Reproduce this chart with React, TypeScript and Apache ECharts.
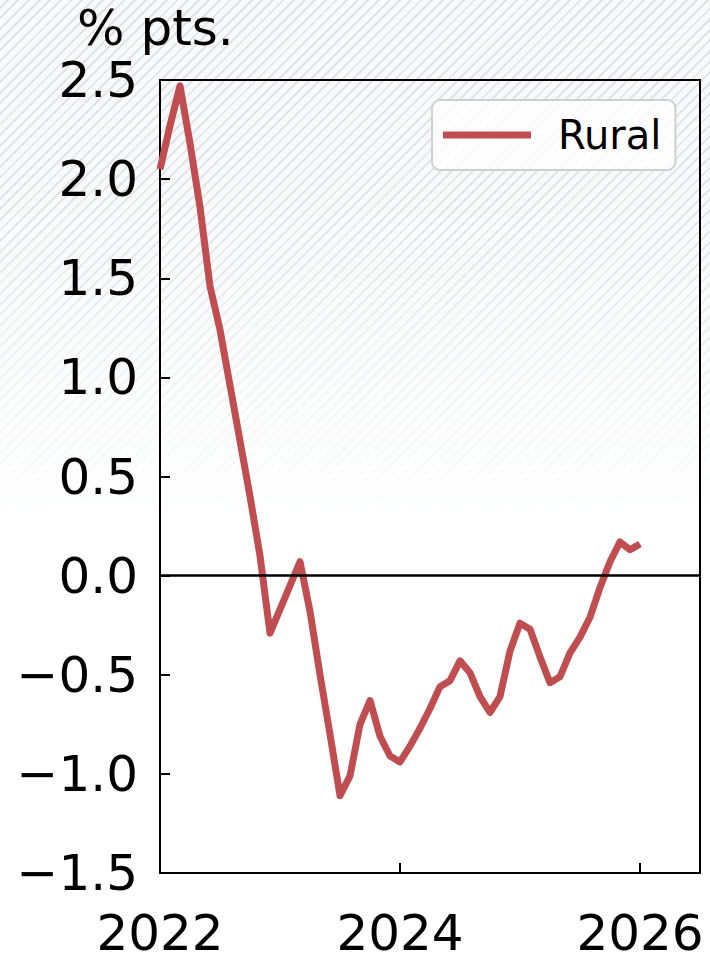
import React, { useEffect, useRef } from "react";
import * as echarts from "echarts";

const months = [
  "2022-01", "2022-02", "2022-03", "2022-04", "2022-05", "2022-06",
  "2022-07", "2022-08", "2022-09", "2022-10", "2022-11", "2022-12",
  "2023-01", "2023-02", "2023-03", "2023-04", "2023-05", "2023-06",
  "2023-07", "2023-08", "2023-09", "2023-10", "2023-11", "2023-12",
  "2024-01", "2024-02", "2024-03", "2024-04", "2024-05", "2024-06",
  "2024-07", "2024-08", "2024-09", "2024-10", "2024-11", "2024-12",
  "2025-01", "2025-02", "2025-03", "2025-04", "2025-05", "2025-06",
  "2025-07", "2025-08", "2025-09", "2025-10", "2025-11", "2025-12",
  "2026-01",
];

const rural = [
  2.05, 2.27, 2.47, 2.18, 1.86, 1.46,
  1.24, 0.96, 0.68, 0.40, 0.10, -0.29,
  -0.17, -0.05, 0.07, -0.18, -0.50, -0.80,
  -1.11, -1.01, -0.75, -0.63, -0.81, -0.91,
  -0.94, -0.86, -0.77, -0.67, -0.56, -0.53,
  -0.43, -0.49, -0.61, -0.69, -0.61, -0.38,
  -0.24, -0.27, -0.41, -0.54, -0.51, -0.39,
  -0.31, -0.21, -0.06, 0.07, 0.17, 0.13,
  0.16,
];

const seriesName = "Rural";
const yUnit = "% pts.";
const xMin = 2022;
const xMax = 2026.5;
const xStep = 2;
const yMin = -1.5;
const yMax = 2.5;
const yStep = 0.5;

const FONT = "DejaVu Sans";
const RED = "#c04d4f";

function fmtY(v: number): string {
  const s = Math.abs(v).toFixed(1);
  return v < 0 ? "\u2212" + s : s;
}

export default function App() {
  const ref = useRef<HTMLDivElement>(null);

  useEffect(() => {
    if (!ref.current) return;
    const chart = echarts.init(ref.current, null, { renderer: "svg" });
    const data = months.map((m, i) => [
      parseInt(m.slice(0, 4), 10) + (parseInt(m.slice(5, 7), 10) - 1) / 12,
      rural[i],
    ]);
    chart.setOption({
      animation: false,
      backgroundColor: "transparent",
      grid: {
        left: 160,
        right: 10,
        top: 80,
        bottom: 90,
        show: true,
        borderColor: "#000",
        borderWidth: 2,
        backgroundColor: "transparent",
      },
      graphic: [
        {
          type: "text",
          left: 77,
          top: 3,
          style: {
            text: yUnit,
            font: `50px "${FONT}"`,
            fill: "#000",
          },
        },
      ],
      legend: {
        left: 432,
        top: 100,
        padding: [11, 14, 11, 11],
        backgroundColor: "rgba(255,255,255,0.8)",
        borderColor: "#d0d0d0",
        borderWidth: 2,
        borderRadius: 8,
        itemWidth: 88,
        itemHeight: 7,
        icon: "rect",
        data: [{ name: seriesName, itemStyle: { color: RED } }],
        textStyle: {
          fontFamily: FONT,
          fontSize: 40,
          color: "#000",
          padding: [0, 0, 0, 22],
          lineHeight: 48,
        },
      },
      xAxis: {
        type: "value",
        min: xMin,
        max: xMax,
        interval: xStep,
        axisLine: { show: true, onZero: false, lineStyle: { color: "#000", width: 2 } },
        axisTick: { show: true, inside: true, length: 10, lineStyle: { color: "#000", width: 2 } },
        axisLabel: {
          showMaxLabel: false,
          formatter: (v: number) => (Number.isInteger(v) ? String(v) : ""),
          fontFamily: FONT,
          fontSize: 50,
          color: "#000",
          margin: 35,
        },
        splitLine: { show: false },
      },
      yAxis: {
        type: "value",
        min: yMin,
        max: yMax,
        interval: yStep,
        axisLine: { show: true, lineStyle: { color: "#000", width: 2 } },
        axisTick: { show: true, inside: true, length: 10, lineStyle: { color: "#000", width: 2 } },
        axisLabel: {
          formatter: fmtY,
          fontFamily: FONT,
          fontSize: 50,
          color: "#000",
          margin: 22,
        },
        splitLine: { show: false },
      },
      series: [
        {
          name: seriesName,
          type: "line",
          data,
          symbol: "none",
          lineStyle: { color: RED, width: 7, join: "round", cap: "butt" },
          itemStyle: { color: RED },
          markLine: {
            silent: true,
            symbol: "none",
            label: { show: false },
            lineStyle: { color: "#000", width: 2.5, type: "solid" },
            data: [{ yAxis: 0 }],
          },
        },
      ],
    });
    return () => chart.dispose();
  }, []);

  return (
    <div
      style={{
        position: "absolute",
        left: 0,
        top: 0,
        width: 710,
        height: 963,
        background: "#ffffff",
        overflow: "hidden",
      }}
    >
      <div
        style={{
          position: "absolute",
          left: 0,
          top: 0,
          width: 710,
          height: 963,
          backgroundColor: "#f7f9fa",
          backgroundImage:
            "repeating-linear-gradient(135deg, #f7f9fa 0px, #f7f9fa 4.5px, #dfe3e7 4.5px, #dfe3e7 6.5px, #f7f9fa 6.5px, #f7f9fa 7.5px)",
          WebkitMaskImage: "linear-gradient(to bottom, rgba(0,0,0,1) 0%, rgba(0,0,0,0.9) 22%, rgba(0,0,0,0) 55%)",
          maskImage: "linear-gradient(to bottom, rgba(0,0,0,1) 0%, rgba(0,0,0,0.9) 22%, rgba(0,0,0,0) 55%)",
        }}
      />
      <div ref={ref} style={{ position: "absolute", left: 0, top: 0, width: 710, height: 963 }} />
    </div>
  );
}
